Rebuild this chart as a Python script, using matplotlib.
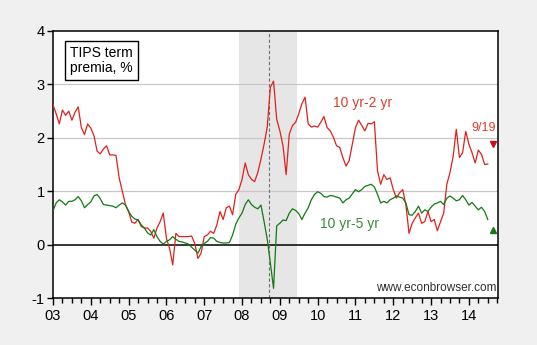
import numpy as np
import matplotlib
matplotlib.use("Agg")
import matplotlib.pyplot as plt
from matplotlib.ticker import FixedLocator, NullFormatter

plt.rcParams['font.family'] = ['Liberation Sans', 'DejaVu Sans']

# monthly TIPS term premia, Jan 2003 onward (percentage points)
spread_10_2 = [
    2.62, 2.45, 2.26, 2.52, 2.42, 2.50, 2.33, 2.48, 2.58, 2.19, 2.06, 2.26,
    2.18, 2.04, 1.75, 1.70, 1.79, 1.85, 1.68, 1.68, 1.67, 1.25, 1.00, 0.75,
    0.62, 0.42, 0.40, 0.47, 0.34, 0.31, 0.31, 0.25, 0.12, 0.31, 0.43, 0.59,
    0.12, -0.07, -0.38, 0.21, 0.15, 0.15, 0.15, 0.15, 0.16, 0.02, -0.26, -0.16,
    0.15, 0.18, 0.25, 0.21, 0.37, 0.62, 0.47, 0.69, 0.72, 0.56, 0.94, 1.03,
    1.22, 1.53, 1.31, 1.22, 1.18, 1.35, 1.60, 1.88, 2.20, 2.95, 3.06, 2.35,
    2.13, 1.85, 1.31, 2.07, 2.23, 2.29, 2.45, 2.64, 2.76, 2.26, 2.20, 2.22,
    2.20, 2.29, 2.40, 2.19, 2.13, 2.01, 1.85, 1.82, 1.63, 1.47, 1.57, 1.88,
    2.19, 2.33, 2.23, 2.13, 2.27, 2.26, 2.30, 1.38, 1.13, 1.31, 1.22, 1.25,
    1.03, 0.87, 0.97, 1.03, 0.75, 0.21, 0.40, 0.50, 0.59, 0.40, 0.43, 0.62,
    0.43, 0.47, 0.26, 0.43, 0.59, 1.13, 1.35, 1.65, 2.16, 1.63, 1.72, 2.12,
    1.88, 1.72, 1.53, 1.77, 1.69, 1.50, 1.51,
]
spread_10_5 = [
    0.63, 0.78, 0.84, 0.80, 0.74, 0.81, 0.81, 0.84, 0.90, 0.82, 0.69, 0.75,
    0.80, 0.91, 0.94, 0.86, 0.75, 0.74, 0.73, 0.72, 0.69, 0.74, 0.78, 0.74,
    0.62, 0.53, 0.48, 0.46, 0.37, 0.31, 0.22, 0.18, 0.28, 0.15, 0.06, 0.01,
    0.06, 0.09, 0.15, 0.10, 0.06, 0.05, 0.03, 0.01, -0.05, -0.10, -0.16, -0.04,
    0.02, 0.06, 0.13, 0.12, 0.06, 0.04, 0.03, 0.03, 0.04, 0.18, 0.38, 0.50,
    0.59, 0.75, 0.84, 0.75, 0.70, 0.67, 0.74, 0.43, 0.10, -0.35, -0.82, 0.35,
    0.40, 0.46, 0.45, 0.59, 0.67, 0.64, 0.58, 0.47, 0.59, 0.69, 0.84, 0.94,
    0.99, 0.96, 0.90, 0.89, 0.92, 0.91, 0.89, 0.87, 0.78, 0.84, 0.87, 0.95,
    1.03, 0.99, 1.03, 1.09, 1.11, 1.13, 1.08, 0.94, 0.78, 0.81, 0.78, 0.84,
    0.87, 0.91, 0.89, 0.87, 0.78, 0.56, 0.55, 0.62, 0.72, 0.59, 0.65, 0.62,
    0.70, 0.76, 0.78, 0.81, 0.75, 0.87, 0.91, 0.87, 0.82, 0.84, 0.92, 0.84,
    0.74, 0.79, 0.72, 0.65, 0.70, 0.62, 0.47,
]
# latest daily reading (9/19)
latest_x = 2014.65
latest_10_2 = 1.88
latest_10_5 = 0.28

recession = (2007 + 11 / 12, 2009 + 5.5 / 12)
lehman = 2008.705
year_labels = ['03', '04', '05', '06', '07', '08', '09', '10', '11', '12', '13', '14']

months = 2003 + np.arange(len(spread_10_2)) / 12

red = '#e0201c'
green = '#127a12'

fig = plt.figure(figsize=(5.37, 3.45), dpi=100, facecolor='#f0f0f0')
ax = fig.add_axes([53 / 537, 1 - 298 / 345, 445 / 537, 267 / 345])
ax.set_facecolor('white')

ax.axvspan(recession[0], recession[1], color='#e6e6e6', lw=0, zorder=0)
for y in [1, 2, 3]:
    ax.axhline(y, color='#c8c8c8', lw=0.9, zorder=1)
ax.axhline(0, color='black', lw=1.1, zorder=2)
ax.axvline(lehman, color='#707070', lw=0.8, ls=(0, (3, 2)), zorder=2)

ax.plot(months, spread_10_2, color=red, lw=0.9, zorder=3)
ax.plot(months, spread_10_5, color=green, lw=0.9, zorder=3)
ax.plot([latest_x], [latest_10_2], marker='v', color='#c8101a', ms=4.5, ls='none', zorder=4)
ax.plot([latest_x], [latest_10_5], marker='^', color='#127a12', ms=4.5, ls='none', zorder=4)

ax.set_xlim(2003, 2014.77)
ax.set_ylim(-1, 4)

years = np.arange(2003, 2003 + len(year_labels))
ax.xaxis.set_major_locator(FixedLocator(years))
ax.set_xticklabels(year_labels)
quarters = [y + q / 4 for y in range(2003, 2015) for q in (1, 2, 3) if y + q / 4 < 2014.77]
ax.xaxis.set_minor_locator(FixedLocator(quarters))
ax.xaxis.set_minor_formatter(NullFormatter())
ax.set_yticks([-1, 0, 1, 2, 3, 4])
ax.set_yticklabels(['-1', '0', '1', '2', '3', '4'])

ax.tick_params(axis='x', which='major', direction='out', length=5, width=1, labelsize=10.5, pad=3, colors='black')
ax.tick_params(axis='x', which='minor', direction='out', length=3.5, width=1)
ax.tick_params(axis='y', direction='out', length=4, width=1, labelsize=10.5, pad=2)
for s in ax.spines.values():
    s.set_linewidth(1.1)
    s.set_color('black')

ax.text(0.038, 0.945, 'TIPS term\npremia, %', transform=ax.transAxes, ha='left', va='top',
        fontsize=10, linespacing=1.15,
        bbox=dict(boxstyle='square,pad=0.35', fc='white', ec='black', lw=1))
ax.text(2011.2, 2.65, '10 yr-2 yr', color='#d8402e', fontsize=10, ha='center', va='center')
ax.text(2010.85, 0.39, '10 yr-5 yr', color='#3c8a3c', fontsize=10, ha='center', va='center')
ax.text(2014.72, 2.19, '9/19', color='#d8402e', fontsize=9, ha='right', va='center')
ax.text(2014.72, -0.82, 'www.econbrowser.com', color='#303030', fontsize=8.5, ha='right', va='center')

fig.savefig('out.png', dpi=100, facecolor=fig.get_facecolor())
